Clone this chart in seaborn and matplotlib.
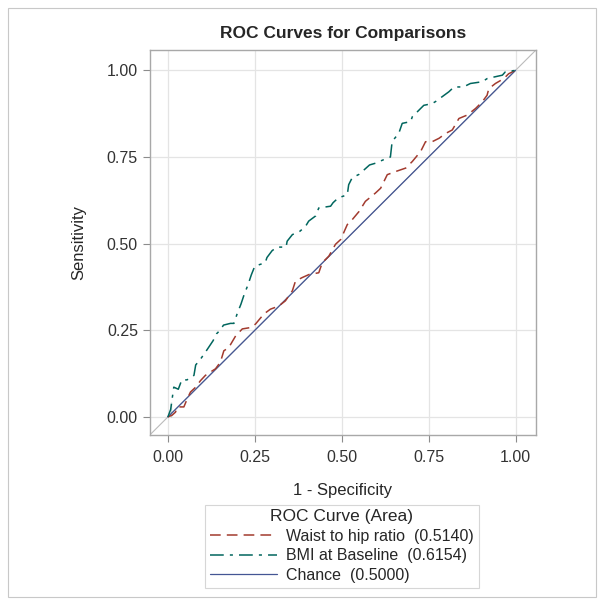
import matplotlib
matplotlib.use("Agg")
import matplotlib.pyplot as plt
import seaborn as sns
import pandas as pd
from matplotlib.patches import Rectangle

# ROC points (1 - specificity, sensitivity)
bmi_fpr = [0.0, 0.008, 0.008, 0.017, 0.03, 0.04, 0.055, 0.075, 0.08, 0.094, 0.11, 0.13, 0.14,
           0.15, 0.16, 0.18, 0.19, 0.20, 0.21, 0.22, 0.23, 0.24, 0.25, 0.28, 0.285, 0.30, 0.315,
           0.34, 0.343, 0.358, 0.38, 0.396, 0.405, 0.425, 0.434, 0.468, 0.475, 0.49, 0.516,
           0.52, 0.53, 0.55, 0.57, 0.58, 0.597, 0.62, 0.64, 0.645, 0.664, 0.674, 0.698, 0.703,
           0.722, 0.736, 0.76, 0.77, 0.808, 0.823, 0.85, 0.87, 0.904, 0.918, 0.935, 0.962,
           0.97, 1.0]
bmi_tpr = [0.0, 0.0, 0.043, 0.086, 0.08, 0.107, 0.107, 0.12, 0.15, 0.167, 0.19, 0.22, 0.24,
           0.25, 0.265, 0.27, 0.27, 0.30, 0.325, 0.355, 0.38, 0.41, 0.435, 0.445, 0.46, 0.48,
           0.49, 0.49, 0.507, 0.526, 0.536, 0.55, 0.565, 0.58, 0.603, 0.608, 0.618, 0.632,
           0.641, 0.67, 0.69, 0.70, 0.718, 0.727, 0.732, 0.742, 0.75, 0.795, 0.818, 0.847,
           0.852, 0.866, 0.885, 0.899, 0.904, 0.91, 0.938, 0.952, 0.952, 0.962, 0.967, 0.976,
           0.98, 0.986, 0.995, 1.0]

waist_fpr = [0.0, 0.012, 0.022, 0.027, 0.046, 0.056, 0.065, 0.08, 0.094, 0.108, 0.123, 0.137,
             0.151, 0.161, 0.175, 0.195, 0.214, 0.238, 0.252, 0.276, 0.295, 0.319, 0.338,
             0.358, 0.367, 0.386, 0.406, 0.434, 0.444, 0.463, 0.482, 0.497, 0.516, 0.53,
             0.55, 0.568, 0.597, 0.612, 0.631, 0.655, 0.684, 0.703, 0.727, 0.741, 0.76, 0.78,
             0.799, 0.818, 0.837, 0.861, 0.885, 0.904, 0.918, 0.923, 0.942, 0.966, 0.98, 1.0]
waist_tpr = [0.0, 0.005, 0.014, 0.029, 0.029, 0.053, 0.072, 0.086, 0.105, 0.12, 0.13, 0.139,
             0.158, 0.191, 0.2, 0.234, 0.254, 0.258, 0.268, 0.297, 0.311, 0.32, 0.335, 0.364,
             0.392, 0.402, 0.411, 0.416, 0.445, 0.464, 0.498, 0.512, 0.555, 0.569, 0.593,
             0.622, 0.646, 0.66, 0.699, 0.708, 0.718, 0.737, 0.766, 0.794, 0.794, 0.804,
             0.818, 0.828, 0.861, 0.871, 0.89, 0.909, 0.928, 0.947, 0.962, 0.976, 0.99, 1.0]

chance_fpr = [0.0, 1.0]
chance_tpr = [0.0, 1.0]

labels = ["Waist to hip ratio  (0.5140)", "BMI at Baseline  (0.6154)", "Chance  (0.5000)"]
ticks = [0.0, 0.25, 0.5, 0.75, 1.0]
tick_labels = ["0.00", "0.25", "0.50", "0.75", "1.00"]

waist_df = pd.DataFrame({"fpr": waist_fpr, "tpr": waist_tpr})
bmi_df = pd.DataFrame({"fpr": bmi_fpr, "tpr": bmi_tpr})
chance_df = pd.DataFrame({"fpr": chance_fpr, "tpr": chance_tpr})

sns.set_style("white")
plt.rcParams["font.family"] = ["Liberation Sans", "DejaVu Sans"]

fig = plt.figure(figsize=(6.04, 6.05), dpi=100)
ax = fig.add_axes([0.248, 0.281, 0.639, 0.636])

lim = (-0.052, 1.058)
ax.plot(lim, lim, color="#BBBBBB", lw=0.8, zorder=1)

sns.lineplot(data=waist_df, x="fpr", y="tpr", sort=False, ax=ax, color="#A23A2E",
             lw=1.1, linestyle=(0, (7, 4)), label=labels[0], zorder=3)
sns.lineplot(data=bmi_df, x="fpr", y="tpr", sort=False, ax=ax, color="#01665E",
             lw=1.1, linestyle=(0, (9, 4, 2, 4)), label=labels[1], zorder=3)
sns.lineplot(data=chance_df, x="fpr", y="tpr", sort=False, ax=ax, color="#445694",
             lw=0.9, label=labels[2], zorder=2)

ax.set_xlim(lim)
ax.set_ylim(lim)
ax.set_xticks(ticks)
ax.set_xticklabels(tick_labels)
ax.set_yticks(ticks)
ax.set_yticklabels(tick_labels)
ax.grid(True, color="#E4E4E4", lw=0.9)
ax.set_axisbelow(True)
for s in ax.spines.values():
    s.set_color("#A8A8A8")
    s.set_linewidth(1.0)
ax.tick_params(axis="both", which="both", direction="out", length=5, width=0.8,
               color="#8C8C8C", labelsize=11.5, labelcolor="#333333", bottom=True, left=True)
ax.tick_params(axis="x", pad=6)
ax.set_title("ROC Curves for Comparisons", fontsize=12.5, fontweight="bold", pad=9)
ax.set_xlabel("1 - Specificity", fontsize=12, labelpad=13)
ax.set_ylabel("Sensitivity", fontsize=12, labelpad=15)

handles, lbls = ax.get_legend_handles_labels()
ax.get_legend().remove()
leg = fig.legend(handles, lbls, title="ROC Curve (Area)", loc="upper center",
                 bbox_to_anchor=(0.566, 0.179), frameon=True, fontsize=11.5,
                 title_fontsize=12.5, handlelength=4.2, borderpad=0.3, labelspacing=0.28,
                 handletextpad=0.6, fancybox=False, edgecolor="#CCCCCC")
leg.get_frame().set_linewidth(0.8)

fig.patches.append(Rectangle((0.013, 0.013), 0.974, 0.974, transform=fig.transFigure,
                             fill=False, edgecolor="#C8C8C8", lw=0.8))

fig.savefig("out.png", dpi=100)
